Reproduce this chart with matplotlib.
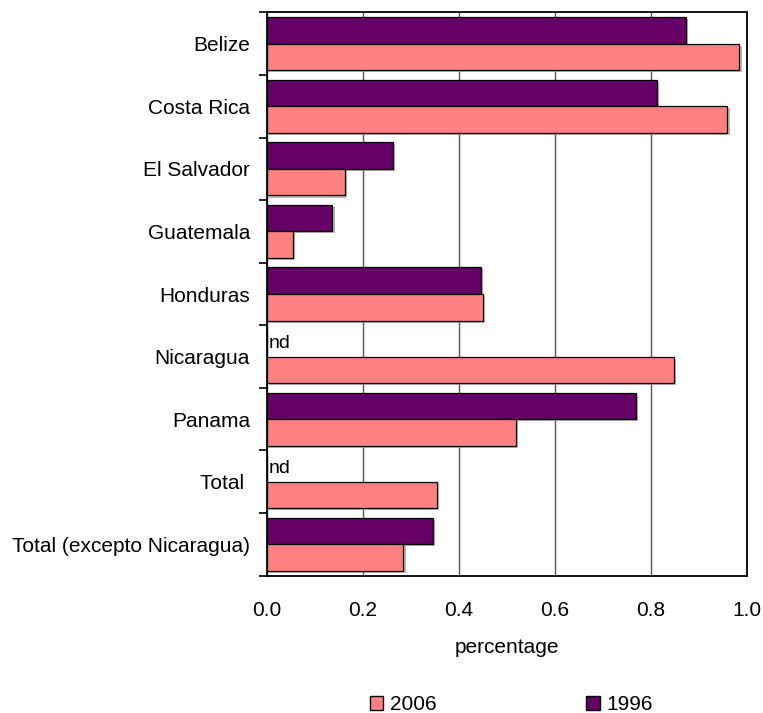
import numpy as np
import matplotlib
matplotlib.use('Agg')
import matplotlib.pyplot as plt
import matplotlib.patheffects as pe
from matplotlib.patches import Patch

plt.rcParams['font.family'] = ['Liberation Sans', 'DejaVu Sans']

countries = ['Belize', 'Costa Rica', 'El Salvador', 'Guatemala', 'Honduras',
             'Nicaragua', 'Panama', 'Total ', 'Total (excepto Nicaragua)']
vals_1996 = [0.874, 0.814, 0.264, 0.137, 0.446, np.nan, 0.769, np.nan, 0.346]
vals_2006 = [0.985, 0.960, 0.164, 0.054, 0.450, 0.849, 0.519, 0.354, 0.285]

c2006 = '#FF8080'
c1996 = '#660066'

fig = plt.figure(figsize=(7.63, 7.13), dpi=100)
ax = fig.add_axes([0.3495, 0.1926, 0.6291, 0.7901])

y = np.arange(len(countries))
h = 0.425
shadow = [pe.SimplePatchShadow(offset=(1.5, -1.5), shadow_rgbFace='#999999', alpha=0.7), pe.Normal()]

v96 = np.nan_to_num(vals_1996)
b1 = ax.barh(y - h / 2, v96, height=h, color=c1996, edgecolor='black', linewidth=0.9, zorder=3)
b2 = ax.barh(y + h / 2, vals_2006, height=h, color=c2006, edgecolor='black', linewidth=0.9, zorder=3)
for b in list(b1) + list(b2):
    b.set_path_effects(shadow)

for i, v in enumerate(vals_1996):
    if np.isnan(v):
        ax.text(0.004, i - h / 2, 'nd', ha='left', va='center', fontsize=14, zorder=4)

ax.set_xlim(0, 1.0)
ax.set_ylim(len(countries) - 0.5, -0.5)
ax.set_xticks([0.0, 0.2, 0.4, 0.6, 0.8, 1.0])
ax.set_xticklabels(['0.0', '0.2', '0.4', '0.6', '0.8', '1.0'], fontsize=15)
ax.tick_params(axis='x', length=0, pad=18)
ax.set_yticks(y)
ax.set_yticklabels(countries, fontsize=15)
ax.tick_params(axis='y', which='major', length=0, pad=12)
ax.set_yticks(np.arange(-0.5, len(countries)), minor=True)
ax.tick_params(axis='y', which='minor', length=6, width=1.2, direction='out')
ax.grid(axis='x', color='#555555', linewidth=1.0, zorder=0)
for s in ax.spines.values():
    s.set_linewidth(1.3)
ax.set_xlabel('percentage', fontsize=15, labelpad=13)

handles = [Patch(facecolor=c2006, edgecolor='black', label='2006'),
           Patch(facecolor=c1996, edgecolor='black', label='1996')]
fig.legend(handles=handles, loc='center', bbox_to_anchor=(0.67, 0.012), ncol=2,
           frameon=False, fontsize=15, handlelength=0.65, handleheight=0.65,
           handletextpad=0.3, columnspacing=7.2)

fig.savefig('out.png', dpi=100)
